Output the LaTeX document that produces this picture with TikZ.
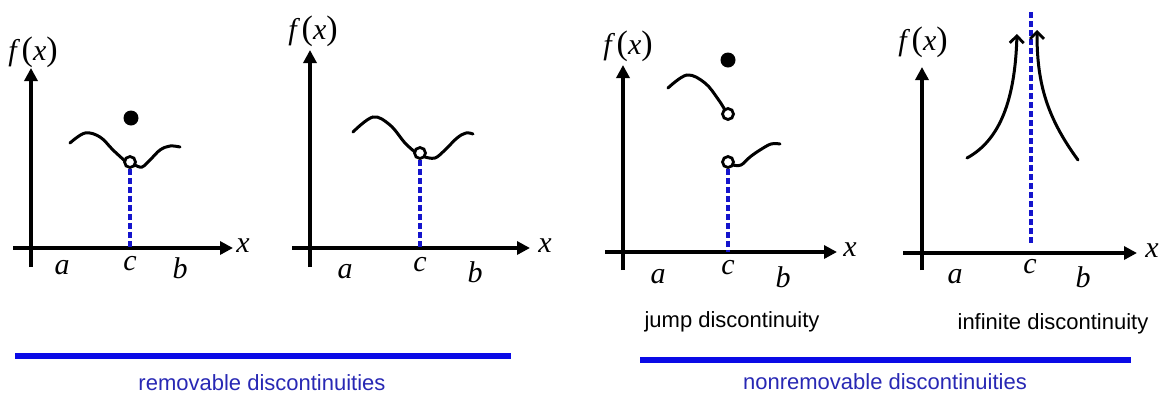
\documentclass[tikz,border=0pt]{standalone}
\usepackage{fontspec}
\setmainfont{Liberation Serif}
\setsansfont{Liberation Sans}
\usepackage{tikz}
\usetikzlibrary{positioning, arrows.meta, calc}
\definecolor{dashblue}{HTML}{1414CC}
\definecolor{barblue}{HTML}{0A0AE6}
\definecolor{capblue}{HTML}{2828B4}
\newcommand{\fofx}{\textit{f}\,{\upshape\fontsize{17}{18}\selectfont(}\textit{x}{\upshape\fontsize{17}{18}\selectfont)}}

\begin{document}
\begin{tikzpicture}[
    x=0.5pt, y=-0.5pt,
    axisline/.style={line width=2.1pt, -{Triangle[length=6.5pt, width=6.5pt]}},
    fnline/.style={line width=1.5pt, line cap=round},
    cdash/.style={dashblue, line width=1.6pt, dash pattern=on 3pt off 1.5pt},
    holept/.style={circle, draw, line width=1.4pt, fill=white, minimum size=5.5pt, inner sep=0pt},
    dotpt/.style={circle, fill, minimum size=7.5pt, inner sep=0pt},
    axlab/.style={font=\fontsize{15}{18}\selectfont\itshape, inner sep=0pt},
    caplab/.style={font=\fontsize{11}{13}\selectfont\sffamily, inner sep=0pt},
    bluebar/.style={barblue, line width=2.6pt},
]
\useasboundingbox (0,0) rectangle (1164,397);

% panel 1: removable, value moved
\draw[axisline] (13,248) -- (233,248);
\draw[axisline] (31,267) -- (31,68);
\node[axlab] (x1) at (243,246) {x};
\node[axlab] (f1) at (33,52) {\fofx};
\node[axlab] (a1) at (62,268) {a};
\node[axlab] (c1) at (130,264) {c};
\node[axlab] (b1) at (180,268) {b};
\node[holept] (h1) at (130,162) {};
\node[dotpt] (d1) at (131,118) {};
\draw[cdash] (h1.south) -- (c1.north |- 0,248);
\draw[fnline] plot[smooth, tension=0.6] coordinates {(70,143) (85,133) (100,137) (113,150) (125,161)};
\draw[fnline] plot[smooth, tension=0.6] coordinates {(135,165) (142,167) (150,160) (160,150) (170,146) (180,147)};

% panel 2: removable, value missing
\draw[axisline] (292,248) -- (530,248);
\draw[axisline] (310,267) -- (310,50);
\node[axlab] (x2) at (545,246) {x};
\node[axlab] (f2) at (313,31) {\fofx};
\node[axlab] (a2) at (345,272) {a};
\node[axlab] (c2) at (420,265) {c};
\node[axlab] (b2) at (475,272) {b};
\node[holept] (h2) at (420,153) {};
\draw[cdash] (h2.south) -- (c2.north |- 0,248);
\draw[fnline] plot[smooth, tension=0.6] coordinates {(353,132) (373,117) (390,125) (405,143) (415,152)};
\draw[fnline] plot[smooth, tension=0.6] coordinates {(425,157) (435,158) (445,150) (457,138) (466,133) (473,134)};

% panel 3: jump
\draw[axisline] (605,252) -- (837,252);
\draw[axisline] (623,270) -- (623,65);
\node[axlab] (x3) at (850,250) {x};
\node[axlab] (f3) at (628,46) {\fofx};
\node[axlab] (a3) at (658,277) {a};
\node[axlab] (c3) at (728,268) {c};
\node[axlab] (b3) at (783,277) {b};
\node[dotpt] (d3) at (728,60) {};
\node[holept] (hu3) at (728,114) {};
\node[holept] (hl3) at (728,162) {};
\draw[cdash] (hl3.south) -- (c3.north |- 0,252);
\draw[fnline] plot[smooth, tension=0.6] coordinates {(668,88) (687,75) (705,83) (718,99) (725,110)};
\draw[fnline] plot[smooth, tension=0.6] coordinates {(733,165) (741,165) (750,157) (760,150) (771,144) (780,144)};
\node[caplab] (jump) at (732,322) {jump discontinuity};

% panel 4: infinite
\draw[axisline] (903,253) -- (1137,253);
\draw[axisline] (922,270) -- (922,67);
\node[axlab] (x4) at (1152,251) {x};
\node[axlab] (f4) at (923,42) {\fofx};
\node[axlab] (a4) at (955,277) {a};
\node[axlab] (c4) at (1030,267) {c};
\node[axlab] (b4) at (1083,277) {b};
\coordinate (vtop) at (1031,12);
\coordinate (vbot) at (1031,243);
\draw[cdash] (vtop) -- (vbot);
\draw[fnline, -{Straight Barb[length=3.5pt, width=7pt, line width=1.4pt]}] (967,158) .. controls (1000,140) and (1015,100) .. (1017,34);
\draw[fnline, -{Straight Barb[length=3.5pt, width=7pt, line width=1.4pt]}] (1078,160) .. controls (1045,115) and (1037,80) .. (1037,30);
\node[caplab] (infin) at (1053,324) {infinite discontinuity};

% group bars
\draw[bluebar] (15,356) -- (511,356);
\draw[bluebar] (640,360) -- (1131,360);
\node[caplab, capblue] (remv) at (262,383) {removable discontinuities};
\node[caplab, capblue] (nonremv) at (885,382) {nonremovable discontinuities};
\end{tikzpicture}
\end{document}
